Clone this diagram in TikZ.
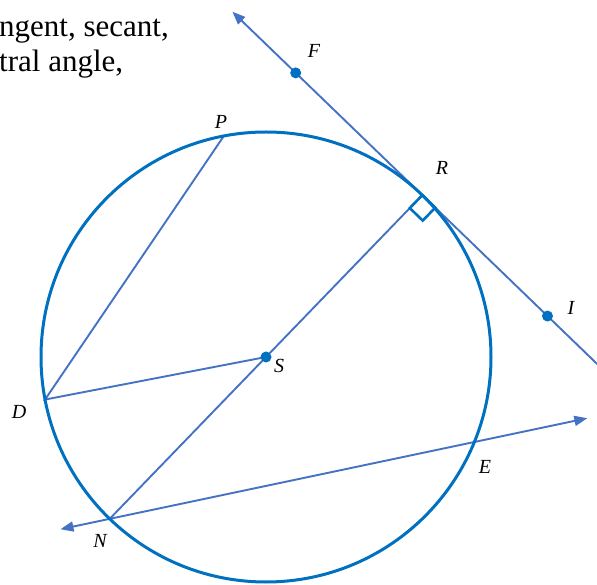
\documentclass[tikz,border=0pt]{standalone}
\usepackage{fontspec}
\setmainfont{Liberation Serif}
\usetikzlibrary{arrows.meta,calc}
\definecolor{lineblue}{HTML}{4472C4}
\definecolor{circblue}{HTML}{0070C0}
\begin{document}
\begin{tikzpicture}[x=1pt,y=1pt,
  geo/.style={draw=lineblue,line width=1.9pt},
  arr/.style={geo,-{Triangle[length=13pt,width=10pt]}},
  dot/.style={circle,fill=circblue,inner sep=0pt,minimum size=11pt},
  lab/.style={font=\fontsize{20}{20}\selectfont\itshape,inner sep=0pt}]
\useasboundingbox (0,0) rectangle (597,584);
\clip (0,0) rectangle (597,584);
\coordinate (S) at (266,227);
\coordinate (R) at ($(S)+(46:225)$);
\coordinate (N) at ($(S)+(226:225)$);
\coordinate (P) at ($(S)+(100.8:225)$);
\coordinate (D) at ($(S)+(190.9:225)$);
\coordinate (E) at ($(S)+(-22.2:225)$);
\coordinate (F) at ($(R)+(136:176)$);
\coordinate (I) at ($(R)+(-44:174)$);
\coordinate (T1) at ($(R)+(136:264)$);
\coordinate (T2) at ($(R)+(-44:262)$);
\coordinate (L1) at ($(N)!-0.135!(E)$);
\coordinate (L2) at ($(E)!-0.31!(N)$);
% lines
\draw[geo] (P) -- (D) -- (S);
\draw[geo] (N) -- (R);
\draw[arr] (R) -- (T1);
\draw[geo] (R) -- (T2);
\draw[arr] (N) -- (L1);
\draw[arr] (N) -- (L2);
% right angle marker
\draw[draw=circblue,line width=2.6pt] (R) -- ($(R)+(226:18)$) -- ($(R)+(226:18)+(-44:18)$) -- ($(R)+(-44:18)$) -- cycle;
% circle
\draw[draw=circblue,line width=3pt] (S) circle[radius=225];
% dots
\node[dot] (Sd) at (S) {};
\node[dot] (Fd) at (F) {};
\node[dot] (Id) at (I) {};
% labels
\node[lab] (lP) at (221,462) {P};
\node[lab] (lR) at (442,416) {R};
\node[lab] (lF) at (314,533) {F};
\node[lab] (lI) at (571,276) {I};
\node[lab] (lS) at (279,218) {S};
\node[lab] (lD) at (19,172) {D};
\node[lab] (lE) at (485,117) {E};
\node[lab] (lN) at (100,43) {N};
% top text
\node[anchor=north west,align=left,inner sep=0pt,font=\fontsize{31}{35}\selectfont] (txt) at (-1,565) {ngent, secant,\\tral angle,};
\end{tikzpicture}
\end{document}
